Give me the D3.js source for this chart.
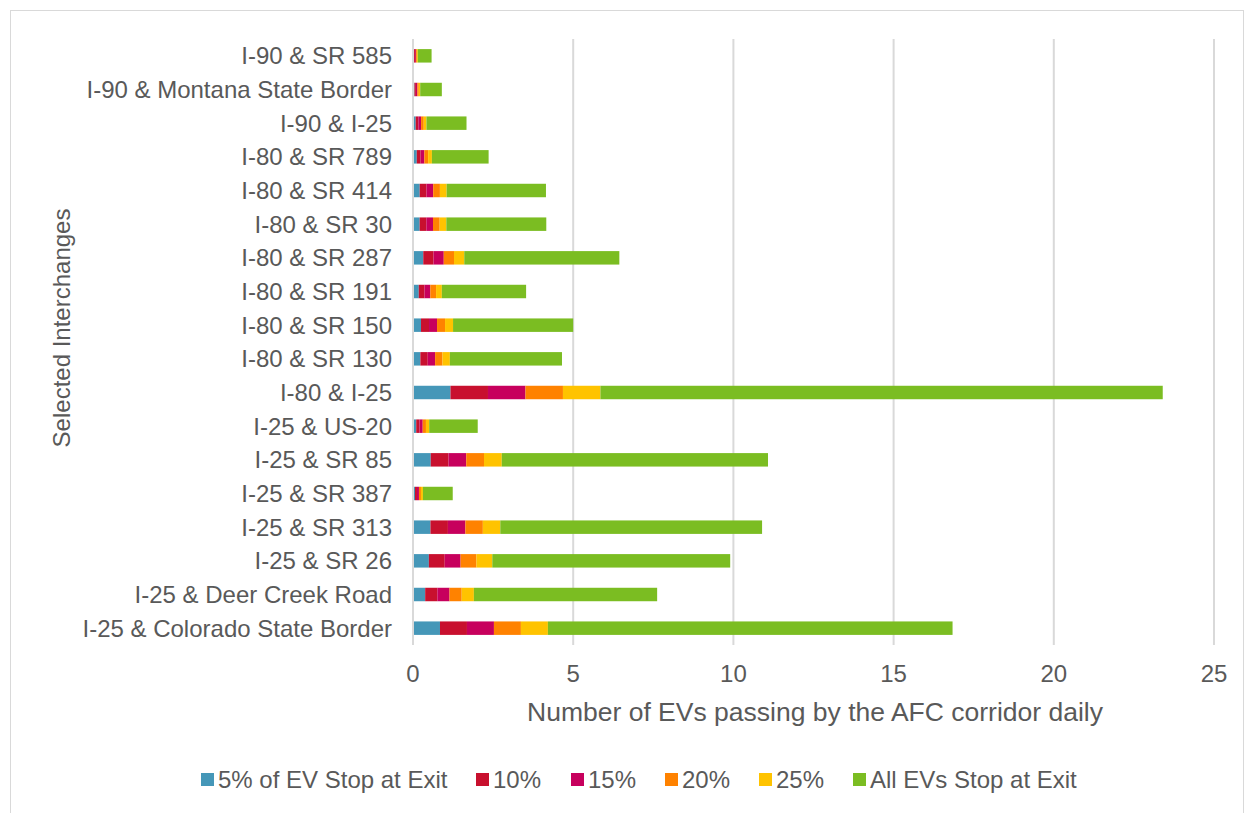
<!DOCTYPE html>
<html><head><meta charset="utf-8">
<script src="https://cdn.jsdelivr.net/npm/d3@7"></script>
<style>body{margin:0;background:#fff}svg{display:block}text{font-family:"Liberation Sans",Arial,sans-serif;fill:#595959}</style>
</head><body>
<svg id="c" width="1254" height="813"></svg>
<script>
const categories = ["I-90 & SR 585","I-90 & Montana State Border","I-90 & I-25","I-80 & SR 789","I-80 & SR 414","I-80 & SR 30","I-80 & SR 287","I-80 & SR 191","I-80 & SR 150","I-80 & SR 130","I-80 & I-25","I-25 & US-20","I-25 & SR 85","I-25 & SR 387","I-25 & SR 313","I-25 & SR 26","I-25 & Deer Creek Road","I-25 & Colorado State Border"];
const seriesNames = ["5% of EV Stop at Exit","10%","15%","20%","25%","All EVs Stop at Exit"];
const s5  = [0.03,0.045,0.084,0.118,0.21,0.208,0.32,0.18,0.25,0.23,1.17,0.101,0.554,0.062,0.545,0.495,0.38,0.842];
const s10 = [0.03,0.045,0.084,0.118,0.21,0.208,0.32,0.18,0.25,0.23,1.17,0.101,0.554,0.062,0.545,0.495,0.38,0.842];
const s15 = [0.03,0.045,0.084,0.118,0.21,0.208,0.32,0.18,0.25,0.23,1.17,0.101,0.554,0.062,0.545,0.495,0.38,0.842];
const s20 = [0.03,0.045,0.084,0.118,0.21,0.208,0.32,0.18,0.25,0.23,1.17,0.101,0.554,0.062,0.545,0.495,0.38,0.842];
const s25 = [0.03,0.045,0.084,0.118,0.21,0.208,0.32,0.18,0.25,0.23,1.17,0.101,0.554,0.062,0.545,0.495,0.38,0.842];
const sAll = [0.43,0.675,1.25,1.77,3.10,3.12,4.84,2.63,3.75,3.50,17.55,1.515,8.31,0.93,8.17,7.425,5.72,12.63];
const xTicks = [0,5,10,15,20,25];
const colors = ["#4597b8","#c8102e","#c7005d","#ff8200","#ffc300","#7bbd22"];

const svg = d3.select("#c");
svg.append("rect").attr("x",10.5).attr("y",10.5).attr("width",1233).attr("height",812).attr("fill","none").attr("stroke","#d9d9d9");

const pL=413, pR=1214, pT=39, pB=645;
const x = d3.scaleLinear().domain([0,25]).range([pL,pR]);
const y = d3.scaleBand().domain(categories).range([pT,pB]).paddingInner(0.6).paddingOuter(0.3);

// gridlines
svg.append("g").selectAll("line").data(xTicks.slice(1)).join("line")
  .attr("x1",d=>x(d)).attr("x2",d=>x(d)).attr("y1",pT).attr("y2",pB)
  .attr("stroke","#d9d9d9").attr("stroke-width",2);

const rows = categories.map((c,i)=>({cat:c, v:[s5[i],s10[i],s15[i],s20[i],s25[i],sAll[i]]}));
const stackData = rows.map(r=>{const o={cat:r.cat}; seriesNames.forEach((s,j)=>o[s]=r.v[j]); return o;});
const stacked = d3.stack().keys(seriesNames)(stackData);

svg.append("g").selectAll("g").data(stacked).join("g").attr("fill",(d,i)=>colors[i])
  .selectAll("rect").data(d=>d).join("rect")
  .attr("x",d=>x(d[0])).attr("width",d=>Math.max(0,x(d[1])-x(d[0])))
  .attr("y",d=>y(d.data.cat)).attr("height",y.bandwidth());

// zero axis line
svg.append("line").attr("x1",pL).attr("x2",pL).attr("y1",pT).attr("y2",pB).attr("stroke","#d9d9d9").attr("stroke-width",2);

// category labels
svg.append("g").selectAll("text").data(categories).join("text")
  .attr("x",392).attr("y",d=>y(d)+y.bandwidth()/2).attr("dy","0.35em")
  .attr("text-anchor","end").style("font-size","24px").text(d=>d);

// x tick labels
svg.append("g").selectAll("text").data(xTicks).join("text")
  .attr("x",d=>x(d)).attr("y",682).attr("text-anchor","middle").style("font-size","24px").text(d=>d);

svg.append("text").attr("x",815).attr("y",721).attr("text-anchor","middle").style("font-size","26.5px")
  .text("Number of EVs passing by the AFC corridor daily");
svg.append("text").attr("transform","translate(70,328) rotate(-90)").attr("text-anchor","middle").style("font-size","24px")
  .text("Selected Interchanges");

// legend
const legX = [201,476,571,665,759,853];
const lg = svg.append("g").selectAll("g").data(seriesNames).join("g")
  .attr("transform",(d,i)=>`translate(${legX[i]},780)`);
lg.append("rect").attr("x",0).attr("y",-7).attr("width",13).attr("height",13).attr("fill",(d,i)=>colors[i]);
lg.append("text").attr("x",17).attr("y",0).attr("dy","0.35em").style("font-size","24px").text(d=>d);
</script>
</body></html>
